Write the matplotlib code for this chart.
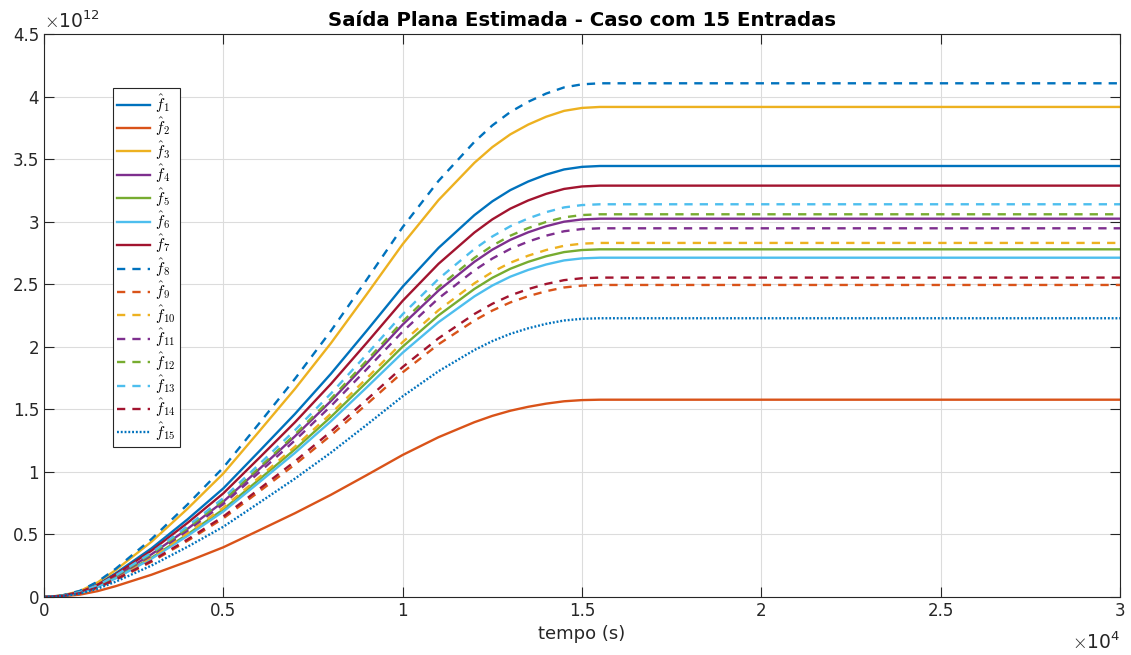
import numpy as np
import matplotlib.pyplot as plt

plt.rcParams.update({
    'font.family': 'DejaVu Sans',
    'mathtext.fontset': 'cm',
    'axes.edgecolor': '#262626',
    'axes.linewidth': 0.8,
    'xtick.color': '#262626',
    'ytick.color': '#262626',
    'xtick.direction': 'in',
    'ytick.direction': 'in',
    'xtick.labelsize': 12,
    'ytick.labelsize': 12,
})

# time samples (x 1e4 s) and normalised trajectory shape
t_e4 = [0.0, 0.05, 0.1, 0.15, 0.2, 0.3, 0.4, 0.5, 0.6, 0.7, 0.8, 0.9, 1.0,
        1.1, 1.2, 1.25, 1.3, 1.35, 1.4, 1.45, 1.5, 1.55, 1.6, 2.0, 2.5, 3.0]
shape = [0.0, 0.003, 0.012, 0.030, 0.055, 0.113, 0.180, 0.252, 0.338,
         0.425, 0.518, 0.618, 0.720, 0.810, 0.886, 0.918, 0.944, 0.964,
         0.980, 0.992, 0.998, 1.0, 1.0, 1.0, 1.0, 1.0]

# final value of each flat output (x 1e12)
f_final = [3.445, 1.577, 3.917, 3.024, 2.779, 2.712, 3.288,
           4.106, 2.494, 2.830, 2.947, 3.059, 3.139, 2.553, 2.228]

matlab_colors = ['#0072BD', '#D95319', '#EDB120', '#7E2F8E',
                 '#77AC30', '#4DBEEE', '#A2142F']

t = np.array(t_e4) * 1e4
fig = plt.figure(figsize=(11.31, 6.55), dpi=100)
ax = fig.add_axes([44/1131, 1 - 597/655, (1120 - 44)/1131, (597 - 34)/655])

for i, ff in enumerate(f_final):
    y = np.array(shape) * ff * 1e12
    label = r'$\hat{f}_{%d}$' % (i + 1)
    if i < 7:
        ax.plot(t, y, color=matlab_colors[i], lw=1.7, label=label)
    elif i < 14:
        ax.plot(t, y, color=matlab_colors[i - 7], lw=1.7, dashes=(3.5, 3.0),
                label=label)
    else:
        ax.plot(t, y, color=matlab_colors[0], lw=1.7, dashes=(0.8, 0.8),
                label=label)

ax.set_xlim(0, 3e4)
ax.set_ylim(0, 4.5e12)
xt = np.arange(0, 3.01, 0.5)
yt = np.arange(0, 4.51, 0.5)
ax.set_xticks(xt * 1e4)
ax.set_xticklabels(['%g' % v for v in xt])
ax.set_yticks(yt * 1e12)
ax.set_yticklabels(['%g' % v for v in yt])
ax.tick_params(top=True, right=True, length=7, width=0.8)
ax.grid(True, color='#dcdcdc', lw=0.8)
ax.set_axisbelow(True)

ax.text(0.0, 1.004, r'$\times\mathregular{10^{12}}$', transform=ax.transAxes,
        fontsize=13.5, color='#262626', ha='left', va='bottom')
ax.text(1.0, -0.062, r'$\times\mathregular{10^{4}}$', transform=ax.transAxes,
        fontsize=13.5, color='#262626', ha='right', va='top')

ax.set_xlabel('tempo (s)', fontsize=13, color='#262626', labelpad=4)
ax.set_title('Saída Plana Estimada - Caso com 15 Entradas', fontsize=14.2,
             fontweight='bold', color='black', pad=6)

leg = ax.legend(loc='upper left', bbox_to_anchor=(0.064, 0.904),
                borderaxespad=0, fontsize=11, handlelength=2.1,
                labelspacing=0.07, fancybox=False, framealpha=1,
                edgecolor='#262626', borderpad=0.3, handletextpad=0.35)
leg.get_frame().set_linewidth(0.8)

fig.savefig('out.png', dpi=100)
